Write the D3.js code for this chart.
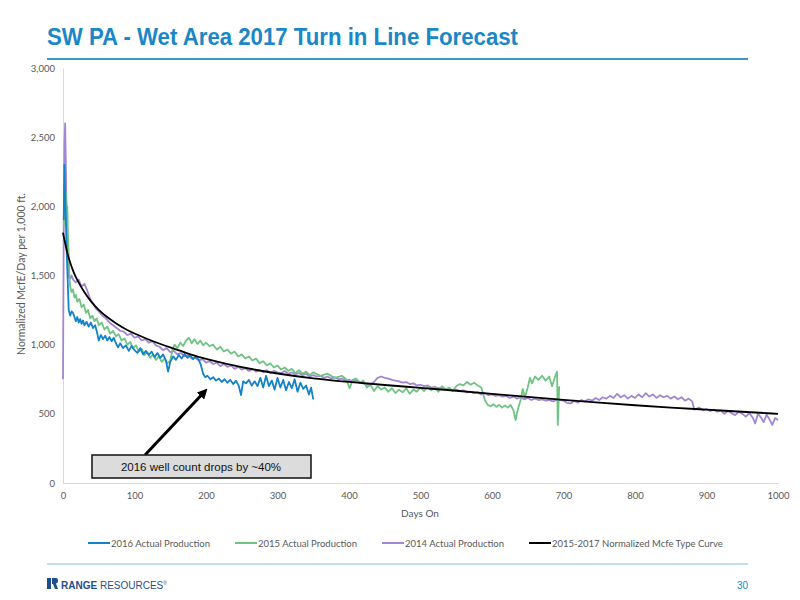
<!DOCTYPE html>
<html>
<head>
<meta charset="utf-8">
<script src="https://cdn.jsdelivr.net/npm/d3@7"></script>
<style>
  body { margin: 0; background: #fff; }
  svg { display: block; }
</style>
</head>
<body>
<div class="chart"></div>
<script>
//----------------------------------------------------------
// data: [days on, Mcfe/day per 1,000 ft]

var prod2016 = [
  [1,1900],[2,2300],[3,2100],[5,1700],[7,1400],[8,1250],[10,1210],[12,1240],[14,1230],[16,1200],
  [18,1170],[20,1200],[22,1160],[24,1185],[26,1150],[28,1175],[30,1140],[33,1165],[36,1130],[39,1160],
  [42,1120],[45,1140],[48,1080],[50,1030],[53,1070],[56,1040],[59,1065],[62,1030],[65,1055],[68,1025],
  [71,1050],[74,1010],[77,980],[80,1010],[84,975],[88,995],[92,955],[96,990],[100,960],[104,940],
  [108,975],[112,930],[116,955],[120,925],[124,950],[128,910],[132,940],[136,905],[140,930],[144,885],
  [147,805],[150,875],[154,915],[158,890],[162,925],[166,900],[170,935],[174,905],[178,925],[182,895],
  [186,915],[190,890],[193,850],[196,790],[199,765],[202,775],[206,750],[210,765],[214,740],[218,755],
  [222,730],[226,750],[230,725],[234,745],[238,715],[242,740],[246,700],[249,635],[252,735],[256,720],
  [260,745],[264,705],[268,735],[272,700],[276,760],[280,690],[284,775],[288,700],[292,740],[296,675],
  [300,760],[304,690],[308,745],[312,670],[316,730],[320,685],[324,750],[328,660],[332,725],[336,680],
  [340,705],[344,640],[347,690],[350,605]
];

var prod2015 = [
  [1,1850],[2,2050],[3,1900],[4,2100],[5,1950],[6,2000],[7,1800],[8,1650],[9,1500],[10,1420],
  [12,1380],[14,1400],[16,1340],[18,1360],[20,1310],[23,1330],[26,1270],[29,1290],[32,1230],[35,1250],
  [38,1190],[41,1210],[44,1170],[47,1190],[50,1140],[54,1160],[58,1110],[62,1130],[66,1080],[70,1100],
  [74,1060],[78,1075],[82,1030],[86,1045],[90,1000],[94,1020],[98,975],[102,995],[106,950],[110,970],
  [114,925],[118,945],[122,905],[126,930],[130,890],[134,915],[138,875],[142,900],[146,865],[150,885],
  [153,960],[156,1000],[160,975],[164,1015],[168,990],[172,1030],[176,1050],[180,1010],[184,1040],[188,1005],
  [192,1030],[196,995],[200,1015],[205,990],[210,1000],[215,965],[220,985],[225,950],[230,965],[235,935],
  [240,950],[245,915],[250,930],[255,900],[260,915],[265,885],[270,900],[275,865],[280,880],[285,850],
  [290,865],[295,835],[300,850],[305,820],[310,835],[315,810],[320,825],[325,795],[330,815],[335,790],
  [340,805],[345,780],[350,800],[360,775],[370,790],[380,760],[390,775],[396,750],[401,685],[405,745],
  [410,755],[415,725],[420,740],[425,690],[430,710],[435,665],[440,700],[445,675],[450,690],[455,660],
  [460,685],[465,650],[470,675],[475,655],[480,685],[485,645],[490,675],[495,660],[500,690],[505,665],
  [510,695],[515,670],[520,690],[525,660],[530,700],[535,675],[540,690],[545,665],[550,700],[555,715],
  [560,705],[565,730],[570,710],[575,725],[580,705],[585,690],[590,600],[594,565],[598,555],[602,570],
  [606,550],[610,565],[614,545],[618,560],[622,545],[626,565],[630,525],[633,455],[636,530],[640,600],
  [643,680],[646,620],[650,690],[653,760],[656,720],[660,770],[665,745],[670,775],[675,740],[680,770],
  [684,700],[688,765],[691,805],[692,420],[694,700]
];

var prod2014 = [
  [0,750],[1,1800],[2,2450],[3,2600],[4,2300],[5,1950],[6,1700],[7,1550],[8,1490],[10,1480],
  [12,1500],[14,1470],[18,1450],[22,1470],[26,1420],[30,1440],[34,1390],[38,1330],[42,1300],[46,1260],
  [50,1240],[55,1210],[60,1190],[65,1160],[70,1140],[75,1120],[80,1100],[85,1095],[90,1070],[95,1080],
  [100,1050],[105,1060],[110,1030],[115,1040],[120,1015],[125,1025],[130,995],[135,985],[140,960],[145,975],
  [150,945],[155,955],[160,930],[165,940],[170,915],[175,925],[180,900],[185,905],[190,885],[195,895],
  [200,870],[205,880],[210,860],[215,870],[220,845],[225,860],[230,840],[235,850],[240,825],[245,840],
  [250,820],[255,830],[260,810],[265,825],[270,805],[275,815],[280,800],[285,815],[290,795],[295,810],
  [300,800],[305,795],[310,810],[315,790],[320,800],[325,785],[330,795],[335,780],[340,790],[345,770],
  [350,780],[355,770],[360,775],[365,760],[370,770],[375,755],[380,765],[385,750],[390,755],[395,740],
  [400,745],[405,735],[410,740],[415,725],[420,720],[425,710],[430,715],[435,730],[440,760],[445,770],
  [450,760],[455,755],[460,745],[465,740],[470,735],[475,725],[480,730],[485,715],[490,720],[495,705],
  [500,710],[505,700],[510,705],[515,690],[520,695],[525,685],[530,690],[535,680],[540,680],[545,670],
  [550,675],[555,665],[560,670],[565,655],[570,660],[575,650],[580,655],[585,640],[590,650],[595,635],
  [600,640],[605,630],[610,635],[615,625],[620,630],[625,615],[630,625],[635,610],[640,620],[645,605],
  [650,615],[655,600],[660,610],[665,600],[670,605],[675,595],[680,600],[685,590],[690,600],[695,600],
  [700,595],[705,580],[710,575],[715,595],[720,580],[725,600],[730,590],[735,605],[740,595],[745,615],
  [750,600],[755,620],[760,610],[765,630],[770,615],[775,645],[780,620],[785,635],[790,610],[795,630],
  [800,615],[805,640],[810,620],[815,650],[820,625],[825,640],[830,615],[835,635],[840,620],[845,630],
  [850,610],[855,625],[860,605],[865,620],[870,595],[875,610],[880,590],[883,530],[890,545],[895,525],
  [900,535],[905,520],[910,530],[915,515],[920,525],[925,500],[930,520],[935,505],[940,490],[945,515],
  [950,500],[955,480],[960,505],[965,470],[968,430],[972,500],[976,475],[980,440],[984,495],[988,460],
  [992,420],[996,470],[1000,455]
];

var typeCurve = [
  [0,1810],[5,1680],[10,1590],[15,1520],[20,1465],[30,1375],[40,1305],[50,1250],[60,1205],[75,1150],
  [90,1105],[100,1080],[125,1025],[150,980],[175,935],[200,895],[250,835],[300,790],[350,755],[400,730],
  [450,708],[500,688],[550,667],[600,645],[650,622],[700,600],[750,580],[800,562],[850,545],[900,530],
  [950,515],[1000,500]
];

var seriesNames = ["2016 Actual Production", "2015 Actual Production", "2014 Actual Production", "2015-2017 Normalized Mcfe Type Curve"];
var xTicks = [0, 100, 200, 300, 400, 500, 600, 700, 800, 900, 1000];
var yTicks = [0, 500, 1000, 1500, 2000, 2500, 3000];
var calloutText = "2016 well count drops by ~40%";
var calloutPoint = [200, 750];

//----------------------------------------------------------
// page

var w = 800;
var h = 600;
var colors = ["#1283c9", "#6fc484", "#a286d3", "#000000"];
var grey = "#595959";
var tickFont = "Lato, 'Open Sans', sans-serif";

var svg = d3.select(".chart")
            .append("svg")
            .attr("width", w)
            .attr("height", h);

// title and rules
svg.append("text")
    .attr("x", 47)
    .attr("y", 45)
    .attr("textLength", 471)
    .attr("lengthAdjust", "spacingAndGlyphs")
    .style("font-family", "'Liberation Sans', Arial, sans-serif")
    .style("font-weight", "bold")
    .style("font-size", "23px")
    .style("fill", "#1a87c7")
    .text("SW PA - Wet Area 2017 Turn in Line Forecast");

svg.append("line")
    .attr("x1", 47).attr("x2", 748)
    .attr("y1", 59).attr("y2", 59)
    .attr("stroke", "#3a98cf")
    .attr("stroke-width", 2);

svg.append("line")
    .attr("x1", 47).attr("x2", 748)
    .attr("y1", 564).attr("y2", 564)
    .attr("stroke", "#86bfe0")
    .attr("stroke-width", 1.2);

//----------------------------------------------------------
// plot

var x = d3.scaleLinear().domain([0, 1000]).range([63, 778]);
var y = d3.scaleLinear().domain([0, 3000]).range([483, 68]);

var xAxis = svg.append("g")
    .attr("transform", "translate(0," + y(0) + ")")
    .call(d3.axisBottom(x).tickValues(xTicks).tickSize(0).tickPadding(9).tickFormat(d3.format("d")));

var yAxis = svg.append("g")
    .attr("transform", "translate(" + x(0) + ",0)")
    .call(d3.axisLeft(y).tickValues(yTicks).tickSize(0).tickPadding(8).tickFormat(d3.format(",")));

[xAxis, yAxis].forEach(function(g) {
  g.select(".domain").attr("stroke", "#d9d9d9").attr("stroke-width", 1);
  g.selectAll("text")
    .style("font-family", tickFont)
    .style("font-size", "9.5px")
    .style("fill", grey);
});

svg.append("text")
    .attr("x", 420)
    .attr("y", 517)
    .attr("text-anchor", "middle")
    .style("font-family", tickFont)
    .style("font-size", "10px")
    .style("fill", grey)
    .text("Days On");

svg.append("text")
    .attr("transform", "translate(25,274) rotate(-90)")
    .attr("text-anchor", "middle")
    .style("font-family", tickFont)
    .style("font-size", "10.5px")
    .style("fill", grey)
    .text("Normalized McfE/Day per 1,000 ft.");

var line = d3.line()
    .x(function(d) { return x(d[0]); })
    .y(function(d) { return y(d[1]); });

var smooth = d3.line()
    .curve(d3.curveBasis)
    .x(function(d) { return x(d[0]); })
    .y(function(d) { return y(d[1]); });

var actuals = [prod2014, prod2015, prod2016];
var actualColors = [colors[2], colors[1], colors[0]];

svg.selectAll("path.actual")
    .data(actuals)
    .enter()
    .append("path")
    .attr("class", "actual")
    .attr("d", line)
    .attr("fill", "none")
    .attr("stroke", function(d, i) { return actualColors[i]; })
    .attr("stroke-width", 1.8)
    .attr("stroke-linejoin", "round");

svg.append("path")
    .attr("d", smooth(typeCurve))
    .attr("fill", "none")
    .attr("stroke", colors[3])
    .attr("stroke-width", 1.8);

//----------------------------------------------------------
// callout

var defs = svg.append("defs");
defs.append("marker")
    .attr("id", "head")
    .attr("viewBox", "0 0 10 10")
    .attr("refX", 5).attr("refY", 5)
    .attr("markerWidth", 3.4).attr("markerHeight", 3.4)
    .attr("orient", "auto")
    .append("path")
    .attr("d", "M0,0 L10,5 L0,10 z")
    .attr("fill", "#000");

svg.append("line")
    .attr("x1", 145).attr("y1", 455)
    .attr("x2", x(calloutPoint[0]) - 2).attr("y2", y(calloutPoint[1]) + 13)
    .attr("stroke", "#000")
    .attr("stroke-width", 3)
    .attr("marker-end", "url(#head)");

svg.append("rect")
    .attr("x", 92).attr("y", 455)
    .attr("width", 219).attr("height", 23)
    .attr("fill", "#dcdcdc")
    .attr("stroke", "#111")
    .attr("stroke-width", 1.5);

svg.append("text")
    .attr("x", 201)
    .attr("y", 470.5)
    .attr("text-anchor", "middle")
    .style("font-family", "'Liberation Sans', Arial, sans-serif")
    .style("font-size", "11.5px")
    .style("fill", "#111")
    .text(calloutText);

//----------------------------------------------------------
// legend

var legendX = [88, 235, 382, 529];
var legend = svg.selectAll("g.legend")
    .data(seriesNames)
    .enter()
    .append("g")
    .attr("class", "legend")
    .attr("transform", function(d, i) { return "translate(" + legendX[i] + ",543)"; });

legend.append("line")
    .attr("x1", 0).attr("x2", 22)
    .attr("stroke", function(d, i) { return colors[i]; })
    .attr("stroke-width", 2);

legend.append("text")
    .attr("x", 23)
    .attr("y", 3.5)
    .style("font-family", tickFont)
    .style("font-size", "9.5px")
    .style("fill", grey)
    .text(function(d) { return d; });

//----------------------------------------------------------
// footer

var logo = svg.append("g").attr("transform", "translate(47,578)");
logo.append("rect").attr("x", 0).attr("y", 0).attr("width", 4).attr("height", 11).attr("fill", "#1f4e8c");
logo.append("path").attr("d", "M5,0 H9 Q11,0 11,3 Q11,5 9,5.5 L11,11 H8 L6,6 H5 Z").attr("fill", "#1f4e8c");
logo.append("text")
    .attr("x", 14).attr("y", 10.5)
    .style("font-family", "'Liberation Sans', Arial, sans-serif")
    .style("font-size", "10px")
    .style("fill", "#1f4e8c")
    .html("<tspan font-weight='bold'>RANGE</tspan> RESOURCES<tspan font-size='5px' dy='-4'>®</tspan>");

svg.append("text")
    .attr("x", 748)
    .attr("y", 589)
    .attr("text-anchor", "end")
    .style("font-family", "'Liberation Sans', Arial, sans-serif")
    .style("font-size", "10px")
    .style("fill", "#1a87c7")
    .text("30");
</script>
</body>
</html>
